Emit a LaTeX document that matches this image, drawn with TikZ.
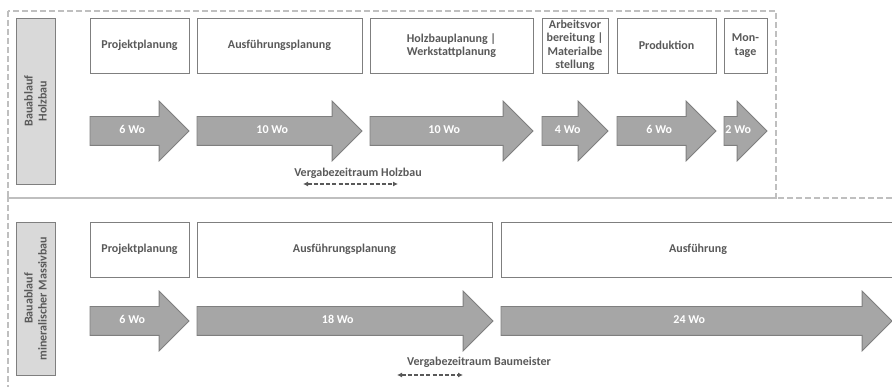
\documentclass[tikz,border=0pt]{standalone}
\usepackage{fontspec}
\setmainfont{Carlito}
\usetikzlibrary{arrows.meta,positioning,shapes.arrows}
\definecolor{txtgray}{HTML}{595959}
\definecolor{linegray}{HTML}{7F7F7F}
\definecolor{arrowgray}{HTML}{A6A6A6}
\definecolor{laufgray}{HTML}{D9D9D9}
\definecolor{dashgray}{HTML}{BFBFBF}

\begin{document}
\begin{tikzpicture}[x=1pt,y=-1pt,>=Stealth,
 phase/.style={draw=linegray,line width=0.8pt,fill=white,text=txtgray,outer sep=0pt,inner sep=0pt,
  font=\bfseries\fontsize{12}{13.5}\selectfont,minimum height=55pt,align=center},
 dauer/.style={single arrow,draw=linegray,line width=0.8pt,fill=arrowgray,text=white,outer sep=0pt,
  inner xsep=0pt,inner ysep=9pt,text height=8pt,text depth=2pt,font=\bfseries\fontsize{12}{13.5}\selectfont,
  minimum width=59pt,single arrow head extend=15.5pt,single arrow tip angle=90,anchor=tail},
 lauf/.style={draw=linegray,line width=0.8pt,fill=laufgray,text=txtgray,rotate=90,align=center,
  font=\bfseries\fontsize{12}{14}\selectfont,minimum height=39pt},
 bereich/.style={draw=dashgray,line width=1.2pt,dash pattern=on 6pt off 3pt},
 vergabe/.style={draw=txtgray,line width=1.1pt,dash pattern=on 4pt off 2.2pt,
  {Latex[length=5pt,width=5pt]}-{Latex[length=5pt,width=5pt]}},
 notiz/.style={text=txtgray,font=\bfseries\fontsize{12}{13.5}\selectfont}]
\useasboundingbox (0,0) rectangle (892,387);

% Bauablauf Holzbau
\draw[bereich] (8,11) rectangle (776,198);
\node[lauf,minimum width=166pt] (l1) at (35.5,101) {Bauablauf\\Holzbau};
\node[phase,minimum width=99pt,anchor=north west] (h1) at (90,18) {Projektplanung};
\node[phase,minimum width=165pt,right=8pt of h1] (h2) {Ausführungsplanung};
\node[phase,minimum width=163pt,right=8pt of h2] (h3) {Holzbauplanung |\\Werkstattplanung};
\node[phase,minimum width=66pt,right=9pt of h3] (h4) {Arbeitsvor\\bereitung |\\Materialbe\\stellung};
\node[phase,minimum width=99pt,right=9pt of h4] (h5) {Produktion};
\node[phase,minimum width=43pt,right=8pt of h5] (h6) {Mon-\\tage};
\node[dauer,minimum height=99pt] (d1) at ([yshift=-58pt]h1.south west) {6 Wo};
\node[dauer,minimum height=165pt] (d2) at ([yshift=-58pt]h2.south west) {10 Wo};
\node[dauer,minimum height=163pt] (d3) at ([yshift=-58pt]h3.south west) {10 Wo};
\node[dauer,minimum height=66pt] (d4) at ([yshift=-58pt]h4.south west) {4 Wo};
\node[dauer,minimum height=99pt] (d5) at ([yshift=-58pt]h5.south west) {6 Wo};
\node[dauer,minimum height=43pt] (d6) at ([yshift=-58pt]h6.south west) {2 Wo};
\node[notiz] (vh) at (358,173) {Vergabezeitraum Holzbau};
\coordinate (vh1) at (303,184);
\coordinate (vh2) at (398,184);
\draw[vergabe] (vh1) -- (vh2);

% Bauablauf mineralischer Massivbau
\draw[bereich] (892,198) -- (8,198) -- (8,387);
\node[lauf,minimum width=153pt] (l2) at (35.5,298.5) {Bauablauf\\mineralischer Massivbau};
\node[phase,minimum width=99pt,anchor=north west] (m1) at (90,222) {Projektplanung};
\node[phase,minimum width=295pt,right=8pt of m1] (m2) {Ausführungsplanung};
\node[phase,minimum width=394pt,right=9pt of m2] (m3) {Ausführung};
\node[dauer,minimum height=99pt] (e1) at ([yshift=-44pt]m1.south west) {6 Wo};
\node[dauer,minimum height=296pt] (e2) at ([yshift=-44pt]m2.south west) {18 Wo};
\node[dauer,minimum height=391pt] (e3) at ([yshift=-44pt]m3.south west) {24 Wo};
\node[notiz] (vb) at (479,362) {Vergabezeitraum Baumeister};
\coordinate (vb1) at (397,375);
\coordinate (vb2) at (463,375);
\draw[vergabe] (vb1) -- (vb2);
\end{tikzpicture}
\end{document}
